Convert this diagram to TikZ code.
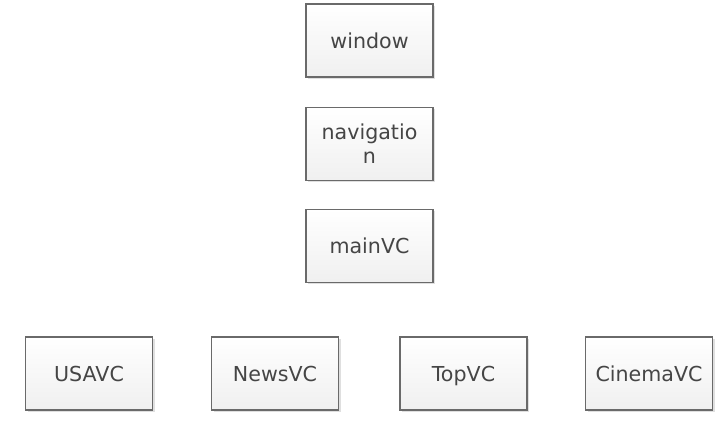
\documentclass[tikz,border=0pt]{standalone}
\usepackage{fontspec}
\setmainfont{DejaVu Sans}
\usetikzlibrary{shadows}
\definecolor{boxline}{HTML}{6A6A6A}
\definecolor{boxtext}{HTML}{454545}
\tikzset{vcbox/.style={draw=boxline, line width=0.6pt, top color=white, bottom color=black!6,
    minimum width=63.5pt, minimum height=36.5pt, inner sep=1pt, align=center,
    text=boxtext, font=\fontsize{10.3}{12}\selectfont, text height=0.76em, text depth=0pt,
    drop shadow={shadow xshift=1pt, shadow yshift=-1pt, opacity=0.25}}}

\begin{document}
\begin{tikzpicture}[x=0.5pt, y=-0.5pt]
  \useasboundingbox (0,0) rectangle (722,426);
  % chain of controllers
  \node[vcbox] (window) at (369.5,40.5) {window};
  \node[vcbox, text height=, text depth=] (navigation) at (369.5,144) {navigatio\\n};
  \node[vcbox] (mainVC) at (369.5,246) {mainVC};
  % tab controllers
  \node[vcbox] (usaVC) at (89,373.5) {USAVC};
  \node[vcbox] (newsVC) at (275,373.5) {NewsVC};
  \node[vcbox] (topVC) at (463.5,373.5) {TopVC};
  \node[vcbox] (cinemaVC) at (649,373.5) {CinemaVC};
\end{tikzpicture}
\end{document}
